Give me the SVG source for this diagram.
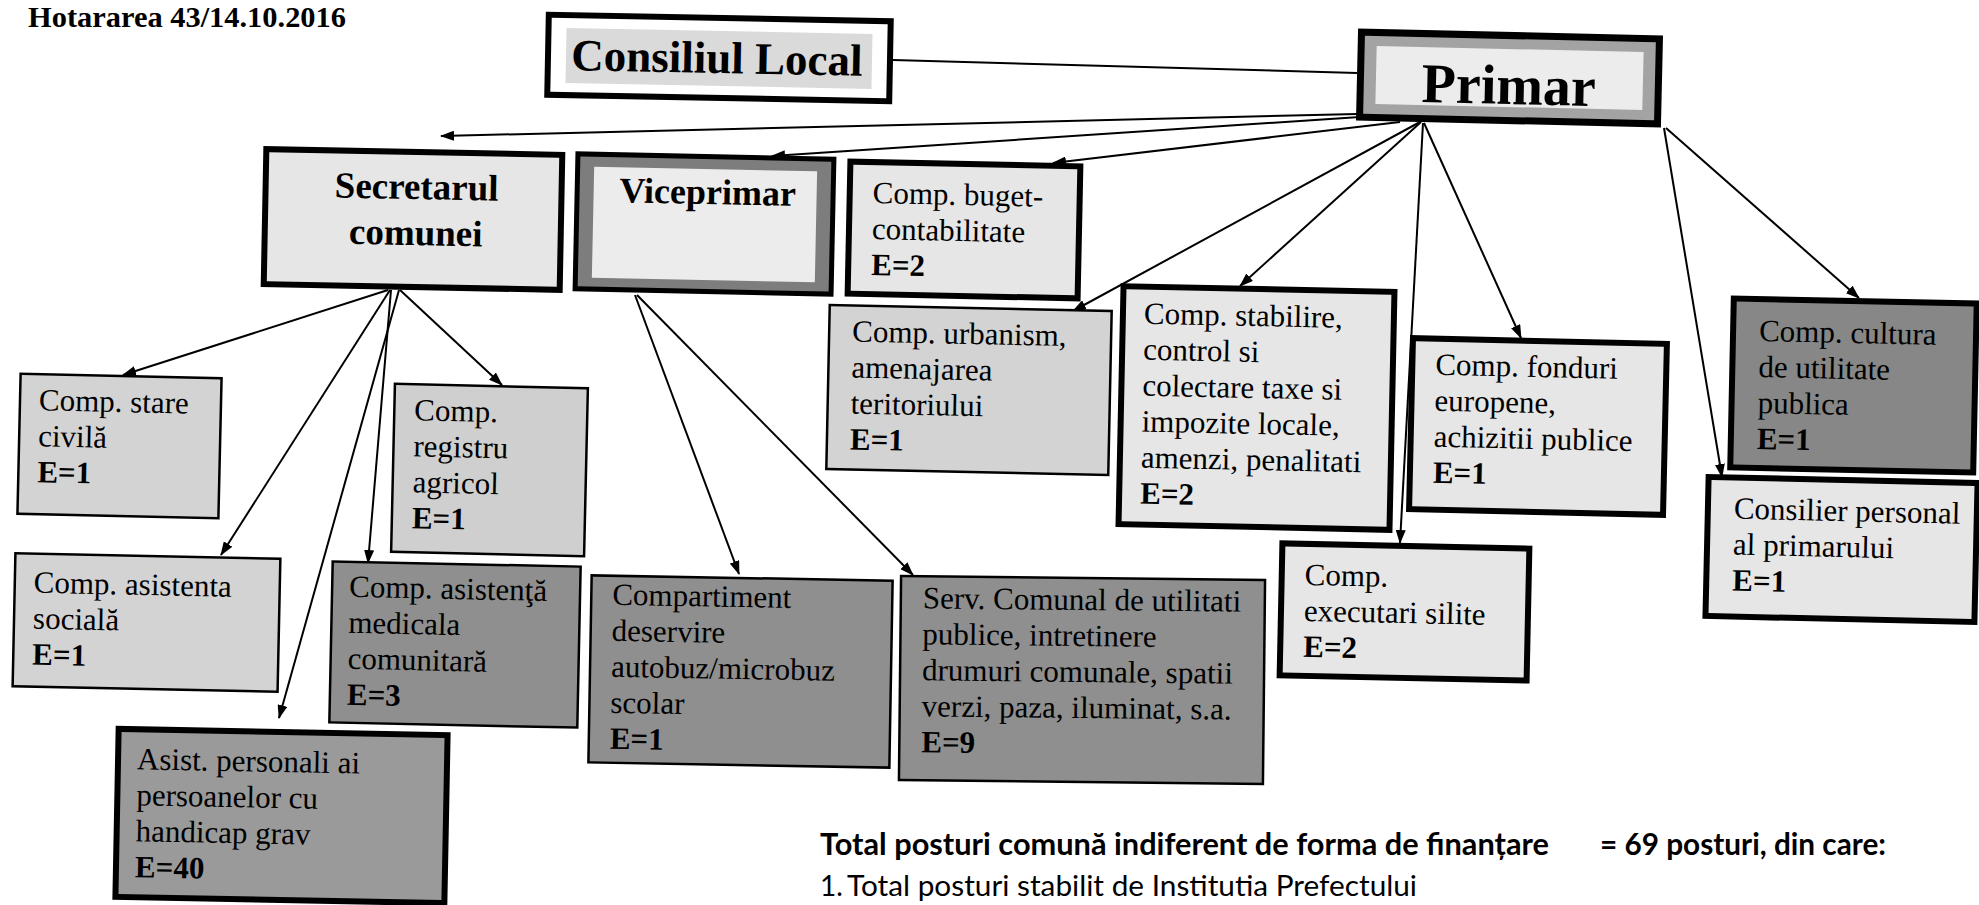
<svg xmlns="http://www.w3.org/2000/svg" width="1979" height="905" viewBox="0 0 1979 905">
<defs>
<marker id="ah" viewBox="0 0 14 10" refX="13" refY="5" markerWidth="14" markerHeight="10" orient="auto" markerUnits="userSpaceOnUse"><path d="M0,0 L14,5 L0,10 z" fill="#000"/></marker>
</defs>
<style>
.t{font-family:"Liberation Serif","Times New Roman",serif;fill:#000}
.n{font-size:31px}
.b{font-weight:bold}
.thick{stroke:#000;stroke-width:6}
.thin{stroke:#000;stroke-width:2.5}
.light{fill:#e6e6e6}
.mid{fill:#d3d3d3}
.dark{fill:#8f8f8f}
.c{stroke:#000;stroke-width:2;fill:none}
.ca{stroke:#000;stroke-width:2;fill:none;marker-end:url(#ah)}
.s{font-family:Lato,"Open Sans","Liberation Sans",sans-serif;font-size:30px;fill:#000}
</style>
<rect width="1979" height="905" fill="#fff"/>
<text class="t b" x="28" y="27" style="font-size:30px" textLength="318" lengthAdjust="spacingAndGlyphs">Hotararea 43/14.10.2016</text>

<g id="connectors">
<line class="c" x1="893" y1="60" x2="1357" y2="73"/>
<line class="ca" x1="1357" y1="114" x2="441" y2="136"/>
<line class="ca" x1="1360" y1="117" x2="772" y2="156"/>
<line class="ca" x1="1400" y1="122" x2="1053" y2="163"/>
<line class="ca" x1="1420" y1="122" x2="1073" y2="311"/>
<line class="ca" x1="1421" y1="122" x2="1240" y2="286"/>
<line class="ca" x1="1423" y1="123" x2="1400" y2="543"/>
<line class="ca" x1="1424" y1="123" x2="1521" y2="338"/>
<line class="ca" x1="1664" y1="128" x2="1722" y2="477"/>
<line class="ca" x1="1666" y1="128" x2="1859" y2="298"/>
<line class="ca" x1="388" y1="290" x2="123" y2="375"/>
<line class="ca" x1="390" y1="290" x2="221" y2="555"/>
<line class="ca" x1="399" y1="290" x2="279" y2="718"/>
<line class="ca" x1="391" y1="290" x2="368" y2="563"/>
<line class="ca" x1="400" y1="290" x2="502" y2="385"/>
<line class="ca" x1="635" y1="295" x2="739" y2="574"/>
<line class="ca" x1="637" y1="295" x2="913" y2="575"/>
</g>

<g id="consiliul" transform="rotate(1.1 719 58)">
<rect x="548" y="18" width="342" height="80" fill="#fff" class="thick"/>
<rect x="566" y="31" width="306" height="55" fill="#dadada"/>
<text class="t b" x="717" y="73" style="font-size:45px" text-anchor="middle">Consiliul Local</text>
</g>

<g id="primar" transform="rotate(1.3 1509 78)">
<rect x="1357" y="32" width="305" height="92" fill="#000"/>
<rect x="1364" y="39" width="291" height="78" fill="#a3a3a3"/>
<rect x="1376" y="49" width="267" height="58" fill="#ececec"/>
<text class="t b" x="1509" y="104" style="font-size:56px" text-anchor="middle">Primar</text>
</g>

<g id="secretarul" transform="rotate(1.1 413 220)">
<rect x="265" y="152" width="296" height="135" class="thick light"/>
<text class="t b" x="416" y="199" style="font-size:37px" text-anchor="middle">Secretarul</text>
<text class="t b" x="416" y="245" style="font-size:37px" text-anchor="middle">comunei</text>
</g>

<g id="viceprimar" transform="rotate(1.2 705 224)">
<rect x="574" y="154" width="261" height="140" fill="#000"/>
<rect x="579" y="159" width="251" height="130" fill="#7d7d7d"/>
<rect x="593" y="169" width="223" height="111" fill="#ececec"/>
<text class="t b" x="707" y="204" style="font-size:36px" text-anchor="middle">Viceprimar</text>
</g>

<g id="buget" transform="rotate(1.2 964 230)">
<rect x="849" y="164" width="230" height="132" class="thick light"/>
<text class="t n" x="872" y="205">Comp. buget-</text>
<text class="t n" x="872" y="241">contabilitate</text>
<text class="t n b" x="872" y="277">E=2</text>
</g>

<g id="urbanism" transform="rotate(1.2 969 390)">
<rect x="828" y="308" width="282" height="164" class="thin mid"/>
<text class="t n" x="851" y="344">Comp. urbanism,</text>
<text class="t n" x="851" y="380">amenajarea</text>
<text class="t n" x="851" y="416">teritoriului</text>
<text class="t n b" x="851" y="452">E=1</text>
</g>

<g id="stabilire" transform="rotate(1.2 1256 408)">
<rect x="1121" y="289" width="271" height="238" class="thick light"/>
<text class="t n" x="1142" y="326">Comp. stabilire,</text>
<text class="t n" x="1142" y="362">control si</text>
<text class="t n" x="1142" y="398">colectare taxe si</text>
<text class="t n" x="1142" y="434">impozite locale,</text>
<text class="t n" x="1142" y="470">amenzi, penalitati</text>
<text class="t n b" x="1142" y="506">E=2</text>
</g>

<g id="fonduri" transform="rotate(1.3 1538 426)">
<rect x="1411" y="341" width="254" height="171" class="thick light"/>
<text class="t n" x="1434" y="377">Comp. fonduri</text>
<text class="t n" x="1434" y="413">europene,</text>
<text class="t n" x="1434" y="449">achizitii publice</text>
<text class="t n b" x="1434" y="485">E=1</text>
</g>

<g id="cultura" transform="rotate(1.2 1854 385)">
<rect x="1732" y="301" width="243" height="169" class="thick" fill="#878787"/>
<text class="t n" x="1758" y="343">Comp. cultura</text>
<text class="t n" x="1758" y="379">de utilitate</text>
<text class="t n" x="1758" y="415">publica</text>
<text class="t n b" x="1758" y="451">E=1</text>
</g>

<g id="consilier" transform="rotate(1.3 1841 550)">
<rect x="1707" y="480" width="269" height="139" class="thick light"/>
<text class="t n" x="1733" y="521">Consilier personal</text>
<text class="t n" x="1733" y="557">al primarului</text>
<text class="t n b" x="1733" y="593">E=1</text>
</g>

<g id="executari" transform="rotate(1.2 1405 612)">
<rect x="1281" y="546" width="247" height="132" class="thick light"/>
<text class="t n" x="1304" y="587">Comp.</text>
<text class="t n" x="1304" y="623">executari silite</text>
<text class="t n b" x="1304" y="659">E=2</text>
</g>

<g id="stare" transform="rotate(1.3 120 446)">
<rect x="19" y="376" width="201" height="140" class="thin mid"/>
<text class="t n" x="38" y="412">Comp. stare</text>
<text class="t n" x="38" y="448">civilă</text>
<text class="t n b" x="38" y="484">E=1</text>
</g>

<g id="registru" transform="rotate(1.3 490 470)">
<rect x="393" y="386" width="193" height="168" class="thin" fill="#cfcfcf"/>
<text class="t n" x="413" y="422">Comp.</text>
<text class="t n" x="413" y="458">registru</text>
<text class="t n" x="413" y="494">agricol</text>
<text class="t n b" x="413" y="530">E=1</text>
</g>

<g id="sociala" transform="rotate(1.2 147 622)">
<rect x="14" y="556" width="265" height="133" class="thin mid"/>
<text class="t n" x="33" y="595">Comp. asistenta</text>
<text class="t n" x="33" y="631">socială</text>
<text class="t n b" x="33" y="667">E=1</text>
</g>

<g id="medicala" transform="rotate(1.2 455 644)">
<rect x="331" y="564" width="248" height="161" class="thin dark"/>
<text class="t n" x="348" y="599">Comp. asistenţă</text>
<text class="t n" x="348" y="635">medicala</text>
<text class="t n" x="348" y="671">comunitară</text>
<text class="t n b" x="348" y="707">E=3</text>
</g>

<g id="asist" transform="rotate(1.1 282 816)">
<rect x="117" y="732" width="329" height="168" class="thick" fill="#9a9a9a"/>
<text class="t n" x="136" y="772">Asist. personali ai</text>
<text class="t n" x="136" y="808">persoanelor cu</text>
<text class="t n" x="136" y="844">handicap grav</text>
<text class="t n b" x="136" y="880">E=40</text>
</g>

<g id="compartiment" transform="rotate(1.0 740 672)">
<rect x="590" y="578" width="301" height="187" class="thin dark"/>
<text class="t n" x="611" y="607">Compartiment</text>
<text class="t n" x="611" y="643">deservire</text>
<text class="t n" x="611" y="679">autobuz/microbuz</text>
<text class="t n" x="611" y="715">scolar</text>
<text class="t n b" x="611" y="751">E=1</text>
</g>

<g id="serv" transform="rotate(0.6 1082 680)">
<rect x="900" y="578" width="364" height="204" class="thin dark"/>
<text class="t n" x="922" y="610">Serv. Comunal de utilitati</text>
<text class="t n" x="922" y="646">publice, intretinere</text>
<text class="t n" x="922" y="682">drumuri comunale, spatii</text>
<text class="t n" x="922" y="718">verzi, paza, iluminat, s.a.</text>
<text class="t n b" x="922" y="754">E=9</text>
</g>

<g id="totals">
<text class="s" font-weight="bold" x="820" y="855" textLength="729" lengthAdjust="spacingAndGlyphs">Total  posturi comună indiferent de forma de finanțare</text>
<text class="s" font-weight="bold" x="1600" y="855" textLength="286" lengthAdjust="spacingAndGlyphs">= 69 posturi, din care:</text>
<text class="s" x="820" y="896" style="font-size:28px">1.</text>
<text class="s" x="847" y="896" style="font-size:28px" textLength="570" lengthAdjust="spacingAndGlyphs">Total posturi stabilit de Institutia Prefectului</text>
</g>
</svg>
